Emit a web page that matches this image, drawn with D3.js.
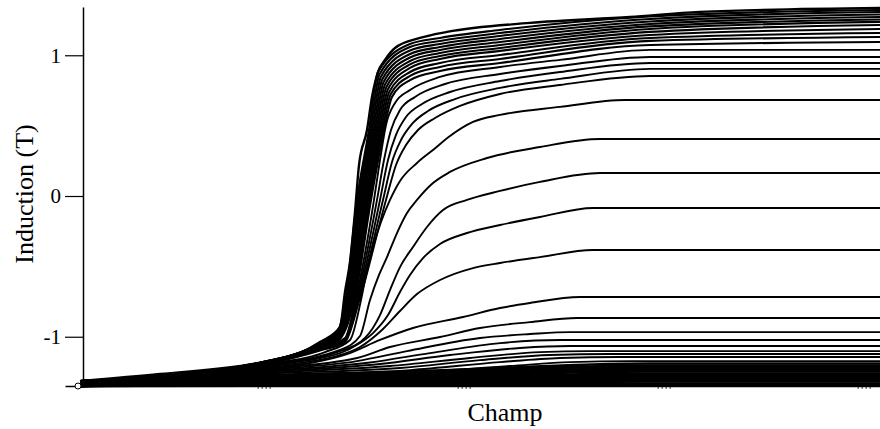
<!DOCTYPE html>
<html><head><meta charset="utf-8">
<script src="https://cdn.jsdelivr.net/npm/d3@7"></script>
<style>html,body{margin:0;padding:0;background:#fff}svg{display:block}</style>
</head><body>
<svg id="chart" width="880" height="429"></svg>
<script>
// ---------- data (Champ, Induction T) ----------
const xTitle = "Champ";
const yTitle = "Induction (T)";
const yTickValues = [-1, 0, 1];
const xTickValues = [2, 4, 6, 8];
const startMarker = [0.13, -1.35];

const envelope = [[0.15,-1.315],[0.95,-1.265],[1.98,-1.18],[2.35,-1.116],[2.55,-1.038],[2.75,-0.931],[2.80,-0.682],[2.85,-0.469],[2.90,-0.114],[2.94,0.220],[3.02,0.469],[3.07,0.704],[3.13,0.881],[3.20,0.967],[3.30,1.052],[3.55,1.123],[3.82,1.166],[4.65,1.230],[5.65,1.272],[6.35,1.308],[8.15,1.336]];

const upperCurves = [
[[0.15,-1.315],[1.98,-1.180],[2.55,-1.045],[2.73,-0.959],[2.805,-0.739],[2.920,-0.028],[3.040,0.469],[3.130,0.881],[3.45,1.080],[3.75,1.123],[4.35,1.180],[5.85,1.276],[8.15,1.322]],
[[0.15,-1.315],[1.98,-1.180],[2.55,-1.048],[2.73,-0.967],[2.814,-0.739],[2.934,-0.028],[3.055,0.469],[3.144,0.864],[3.45,1.059],[3.75,1.102],[4.35,1.158],[5.85,1.258],[8.15,1.308]],
[[0.15,-1.315],[1.98,-1.180],[2.55,-1.052],[2.73,-0.974],[2.823,-0.739],[2.948,-0.028],[3.070,0.469],[3.158,0.846],[3.45,1.034],[3.75,1.080],[4.35,1.137],[5.85,1.240],[8.15,1.290]],
[[0.15,-1.315],[1.98,-1.183],[2.55,-1.055],[2.73,-0.981],[2.832,-0.739],[2.962,-0.028],[3.085,0.469],[3.172,0.828],[3.45,1.009],[3.75,1.059],[4.35,1.116],[5.85,1.222],[8.15,1.272]],
[[0.15,-1.315],[1.98,-1.183],[2.55,-1.059],[2.73,-0.988],[2.841,-0.739],[2.976,-0.028],[3.100,0.469],[3.186,0.810],[3.45,0.984],[3.75,1.038],[4.35,1.094],[5.85,1.205],[8.15,1.254]],
[[0.15,-1.315],[1.98,-1.183],[2.55,-1.062],[2.73,-0.995],[2.850,-0.739],[2.990,-0.028],[3.115,0.469],[3.200,0.792],[3.45,0.959],[3.75,1.016],[4.35,1.073],[5.85,1.187],[8.15,1.237]],
[[0.15,-1.315],[1.98,-1.187],[2.55,-1.066],[2.73,-1.002],[2.859,-0.739],[3.004,-0.028],[3.130,0.469],[3.214,0.775],[3.45,0.935],[3.75,0.995],[4.35,1.052],[5.85,1.166],[8.15,1.215]],
[[0.15,-1.315],[1.98,-1.187],[2.55,-1.070],[2.73,-1.009],[2.868,-0.739],[3.018,-0.028],[3.145,0.469],[3.228,0.757],[3.45,0.910],[3.75,0.974],[4.35,1.031],[5.85,1.144],[8.15,1.187]],
[[0.15,-1.315],[1.98,-1.187],[2.55,-1.073],[2.73,-1.016],[2.877,-0.739],[3.032,-0.028],[3.160,0.469],[3.242,0.739],[3.45,0.881],[3.75,0.945],[4.35,1.002],[5.85,1.123],[8.15,1.158]],
[[0.15,-1.315],[1.98,-1.187],[2.55,-1.077],[2.73,-1.023],[2.886,-0.739],[3.046,-0.028],[3.175,0.469],[3.256,0.721],[3.45,0.853],[3.75,0.917],[4.35,0.974],[5.85,1.102],[8.15,1.130]],
[[0.15,-1.315],[1.98,-1.190],[2.55,-1.080],[2.73,-1.031],[2.895,-0.739],[3.060,-0.028],[3.190,0.469],[3.270,0.704],[3.45,0.824],[3.75,0.888],[4.35,0.945],[5.85,1.073],[8.15,1.094]]
];

const middleCurves = [
[[0.15,-1.322],[1.98,-1.187],[2.55,-1.084],[2.80,-1.009],[2.905,-0.739],[3.09,-0.028],[3.15,0.256],[3.21,0.505],[3.30,0.661],[3.45,0.753],[3.75,0.846],[4.35,0.917],[4.95,0.967],[5.85,1.038],[8.15,1.038]],
[[0.15,-1.322],[1.98,-1.190],[2.55,-1.087],[2.80,-1.016],[2.915,-0.739],[3.12,-0.028],[3.19,0.256],[3.26,0.469],[3.35,0.611],[3.50,0.704],[3.80,0.796],[4.35,0.867],[4.95,0.924],[5.85,0.988],[8.15,0.988]],
[[0.15,-1.322],[1.98,-1.194],[2.55,-1.091],[2.80,-1.023],[2.925,-0.739],[3.15,-0.028],[3.23,0.256],[3.31,0.434],[3.41,0.561],[3.57,0.654],[3.85,0.739],[4.35,0.817],[4.95,0.881],[5.85,0.945],[8.15,0.945]],
[[0.15,-1.326],[1.98,-1.194],[2.55,-1.094],[2.80,-1.031],[2.935,-0.739],[3.18,-0.028],[3.27,0.242],[3.36,0.398],[3.47,0.512],[3.63,0.604],[3.90,0.689],[4.35,0.768],[4.95,0.832],[5.85,0.903],[8.15,0.903]],
[[0.15,-1.326],[1.98,-1.198],[2.55,-1.098],[2.80,-1.038],[2.945,-0.739],[3.21,-0.028],[3.31,0.220],[3.41,0.362],[3.53,0.469],[3.70,0.554],[3.95,0.640],[4.35,0.725],[4.95,0.789],[5.85,0.853],[8.15,0.853]]
];

const openCurves = [
[[0.15,-1.322],[1.98,-1.198],[2.60,-1.109],[2.85,-1.023],[2.96,-0.739],[3.02,-0.526],[3.08,-0.362],[3.16,-0.185],[3.25,-0.028],[3.35,0.107],[3.52,0.235],[3.68,0.327],[3.85,0.426],[4.08,0.526],[4.35,0.576],[4.95,0.633],[5.60,0.682],[8.15,0.682]],
[[0.15,-1.329],[1.98,-1.201],[2.75,-1.094],[2.95,-0.995],[3.05,-0.739],[3.14,-0.561],[3.22,-0.434],[3.32,-0.263],[3.42,-0.121],[3.52,-0.028],[3.68,0.092],[3.85,0.171],[4.22,0.270],[4.75,0.348],[5.35,0.405],[8.15,0.405]],
[[0.15,-1.329],[1.98,-1.205],[2.75,-1.102],[3.00,-1.009],[3.15,-0.846],[3.25,-0.668],[3.35,-0.505],[3.48,-0.362],[3.62,-0.220],[3.78,-0.100],[4.02,-0.028],[4.35,0.036],[4.75,0.100],[5.35,0.163],[8.15,0.163]],
[[0.15,-1.336],[1.98,-1.208],[2.75,-1.116],[2.95,-1.045],[3.08,-0.974],[3.23,-0.846],[3.35,-0.682],[3.45,-0.561],[3.58,-0.441],[3.75,-0.341],[4.02,-0.263],[4.35,-0.206],[4.75,-0.149],[5.28,-0.085],[8.15,-0.085]],
[[0.15,-1.336],[1.98,-1.215],[2.75,-1.130],[2.95,-1.073],[3.18,-0.945],[3.35,-0.817],[3.52,-0.697],[3.75,-0.597],[4.08,-0.512],[4.35,-0.476],[4.75,-0.434],[5.28,-0.384],[8.15,-0.384]],
[[0.15,-1.336],[1.98,-1.222],[2.48,-1.183],[2.82,-1.123],[3.15,-1.023],[3.48,-0.938],[3.98,-0.860],[4.35,-0.796],[4.65,-0.760],[5.15,-0.718],[8.15,-0.718]],
[[0.15,-1.343],[1.98,-1.229],[2.92,-1.151],[3.25,-1.073],[3.75,-1.002],[4.15,-0.938],[4.65,-0.896],[5.12,-0.867],[8.15,-0.867]],
[[0.15,-1.343],[1.98,-1.237],[2.92,-1.173],[3.42,-1.102],[4.15,-1.009],[4.65,-0.981],[5.05,-0.967],[8.15,-0.967]],
[[0.15,-1.343],[1.98,-1.244],[3.05,-1.183],[3.65,-1.116],[4.35,-1.045],[4.95,-1.023],[8.15,-1.023]]
];

const lowerCurves = [
[[0.15,-1.343],[1.98,-1.251],[3.15,-1.194],[3.85,-1.130],[4.55,-1.080],[5.05,-1.066],[8.15,-1.066]],
[[0.15,-1.347],[1.98,-1.258],[3.25,-1.208],[4.05,-1.151],[4.75,-1.109],[5.25,-1.102],[8.15,-1.102]],
[[0.15,-1.347],[1.98,-1.265],[3.35,-1.222],[4.15,-1.166],[4.85,-1.130],[5.45,-1.123],[8.15,-1.123]],
[[0.15,-1.350],[1.98,-1.272],[3.45,-1.237],[4.35,-1.180],[4.95,-1.151],[5.55,-1.144],[8.15,-1.144]],
[[0.15,-1.350],[1.98,-1.279],[3.55,-1.251],[4.45,-1.208],[5.05,-1.180],[5.65,-1.173],[8.15,-1.173]]
];

const bottomCurves = [
[[0.15,-1.350],[1.98,-1.286],[3.85,-1.237],[5.85,-1.190],[8.15,-1.190]],
[[0.15,-1.350],[1.98,-1.293],[3.85,-1.247],[5.85,-1.205],[8.15,-1.205]],
[[0.15,-1.350],[1.98,-1.301],[3.85,-1.258],[5.85,-1.219],[8.15,-1.219]],
[[0.15,-1.350],[1.98,-1.308],[3.85,-1.269],[5.85,-1.233],[8.15,-1.233]],
[[0.15,-1.350],[1.98,-1.315],[3.85,-1.279],[5.85,-1.247],[8.15,-1.247]],
[[0.15,-1.350],[1.98,-1.322],[3.85,-1.290],[5.85,-1.262],[8.15,-1.262]],
[[0.15,-1.350],[1.98,-1.325],[3.85,-1.301],[5.85,-1.276],[8.15,-1.276]],
[[0.15,-1.350],[1.98,-1.329],[3.85,-1.311],[5.85,-1.290],[8.15,-1.290]],
[[0.15,-1.350],[1.98,-1.336],[3.85,-1.322],[5.85,-1.304],[8.15,-1.304]],
[[0.15,-1.350],[1.98,-1.340],[3.85,-1.329],[5.85,-1.318],[8.15,-1.318]],
[[0.15,-1.350],[1.98,-1.343],[3.85,-1.336],[5.85,-1.333],[8.15,-1.333]],
[[0.15,-1.350],[1.98,-1.347],[8.15,-1.347]]
];

const yAxisAt = 0.18;   // champ value where the vertical axis stands

// ---------- drawing ----------
const svg = d3.select("#chart");
const FONT = "'Liberation Serif','Times New Roman',serif";

const x = d3.scaleLinear().domain([0, 8.15]).range([65, 880]);
const y = d3.scaleLinear().domain([-1.35, 1.343]).range([386, 7]);

const line = d3.line().x(d => x(d[0])).y(d => y(d[1])).curve(d3.curveMonotoneX);

const groups = [
  {data: bottomCurves, w: 2.7},
  {data: lowerCurves, w: 1.9},
  {data: openCurves, w: 1.9},
  {data: middleCurves, w: 1.9},
  {data: upperCurves, w: 2.1},
  {data: [envelope], w: 2.4}
];
const plot = svg.append("g");
groups.forEach(g => {
  plot.selectAll(null).data(g.data).enter().append("path")
    .attr("d", line)
    .attr("fill", "none")
    .attr("stroke", "#000")
    .attr("stroke-width", g.w)
    .attr("stroke-linejoin", "round");
});

// x axis baseline and tiny tick marks
const xAxis = d3.axisBottom(x).tickValues(xTickValues).tickSize(0).tickSizeOuter(0).tickFormat("");
const gx = svg.append("g").attr("transform", `translate(0,${y(-1.35)})`).call(xAxis);
gx.select(".domain").attr("stroke", "#000").attr("stroke-width", 1.5);
gx.selectAll(".tick").append("line")
  .attr("x1", -8).attr("x2", 8).attr("y1", 2).attr("y2", 2)
  .attr("stroke", "#000").attr("stroke-width", 1.2).attr("stroke-dasharray", "1.5,2.5");

// y axis
const yAxis = d3.axisLeft(y).tickValues(yTickValues).tickSize(18).tickSizeOuter(0).tickPadding(4)
  .tickFormat(d => String(d));
const gy = svg.append("g").attr("transform", `translate(${x(yAxisAt)},0)`).call(yAxis);
gy.select(".domain").attr("stroke", "#000").attr("stroke-width", 1.5);
gy.selectAll(".tick line").attr("stroke", "#000").attr("stroke-width", 1.2);
gy.selectAll(".tick text").attr("font-family", FONT).attr("font-size", 21).attr("fill", "#000");

// start marker
svg.append("circle")
  .attr("cx", x(startMarker[0])).attr("cy", y(startMarker[1])).attr("r", 3)
  .attr("fill", "#fff").attr("stroke", "#000").attr("stroke-width", 1);

// titles
svg.append("text").text(xTitle)
  .attr("x", 505).attr("y", 421).attr("text-anchor", "middle")
  .attr("font-family", FONT).attr("font-size", 26).attr("fill", "#000");
svg.append("text").text(yTitle)
  .attr("transform", "translate(33,194) rotate(-90)").attr("text-anchor", "middle")
  .attr("font-family", FONT).attr("font-size", 26).attr("fill", "#000");
</script>
</body></html>
